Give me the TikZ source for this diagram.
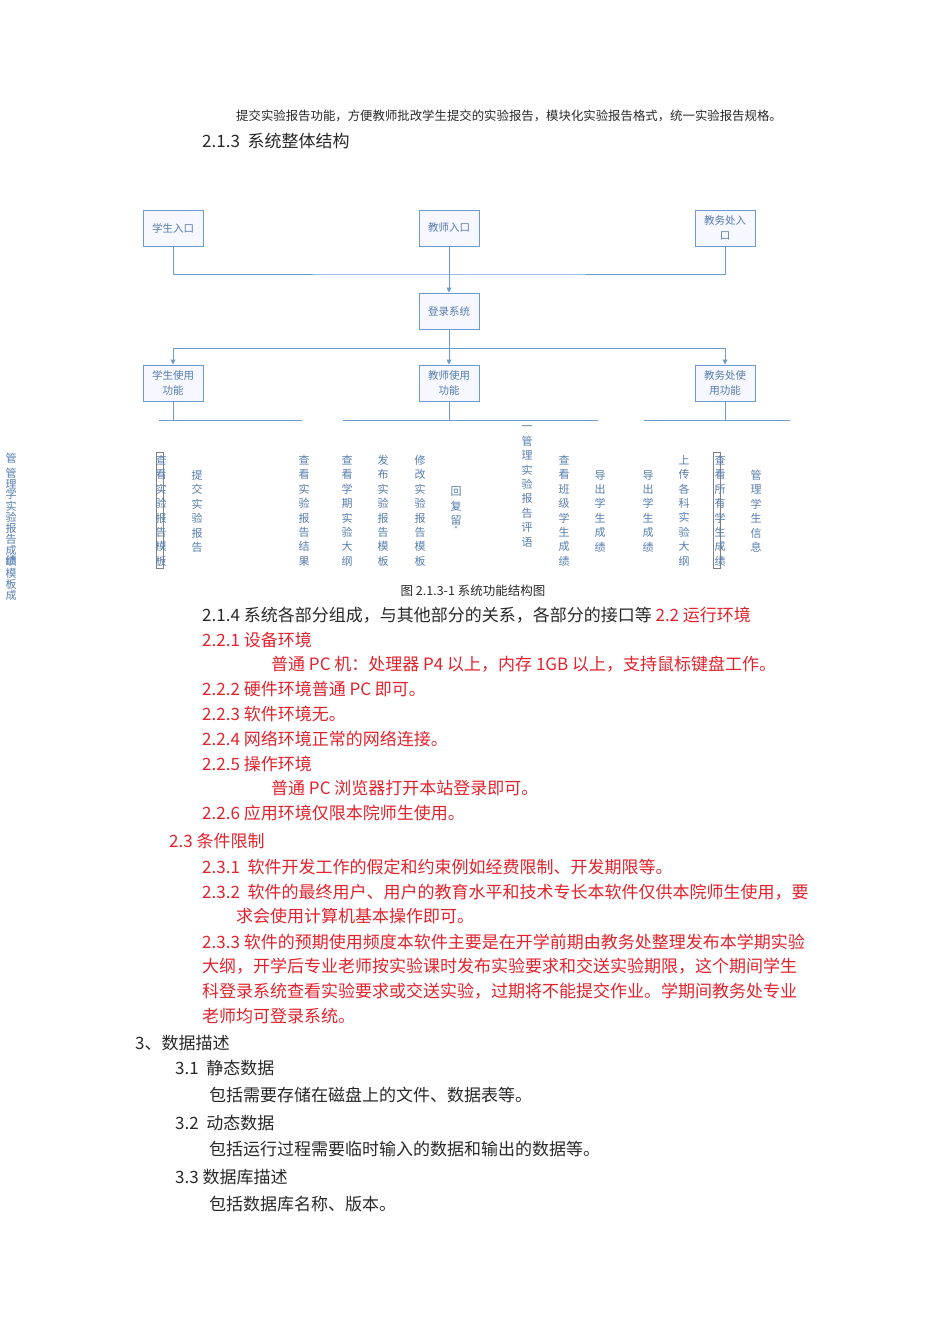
\documentclass[tikz,border=0pt]{standalone}
\usepackage{fontspec}
\setmainfont{Noto Sans CJK SC}
\newfontfamily\djv{DejaVu Sans}
\usetikzlibrary{arrows.meta}
\definecolor{dblue}{RGB}{85,125,175}
\definecolor{lblue}{RGB}{110,155,205}
\definecolor{dred}{RGB}{225,35,45}
\definecolor{dtext}{RGB}{40,40,40}
\tikzset{
  box/.style={draw=lblue,line width=1pt,fill=blue!3,minimum width=60pt,minimum height=36pt,text=dblue,font=\fontsize{10.5}{15}\selectfont,align=center,inner sep=1pt},
  conn/.style={lblue,line width=1pt},
  arr/.style={conn,-{Triangle[length=5pt,width=5pt]}},
  vt/.style={anchor=north,text=dblue,font=\fontsize{11}{14.4}\selectfont,align=center,inner sep=0pt},
  body/.style={anchor=west,inner sep=0pt,font=\fontsize{17}{20}\selectfont},
  rb/.style={body,text=dred},
}
\begin{document}
\begin{tikzpicture}[x=1pt,y=-1pt]
\useasboundingbox (0,0) rectangle (950,1344);
\node[anchor=west,inner sep=0pt,font=\fontsize{12.4}{14}\selectfont,text=dtext] (l0) at (236,116) {提交实验报告功能，方便教师批改学生提交的实验报告，模块化实验报告格式，统一实验报告规格。};
\node[body,text=dtext] (l1) at (202,141) {2.1.3\ \ 系统整体结构};
% diagram
\node[box] (se) at (173,228) {学生入口};
\node[box] (te) at (449,228) {教师入口};
\node[box] (ae) at (725,228) {教务处入\\口};
\node[box] (lg) at (449,311) {登录系统};
\node[box] (su) at (173,383) {学生使用\\功能};
\node[box] (tu) at (449,383) {教师使用\\功能};
\node[box] (au) at (725,383) {教务处使\\用功能};
\coordinate (b1) at (449,274);
\coordinate (b2) at (449,348);
\draw[conn] (se.south) |- (b1) -| (ae.south);
\draw[arr] (te.south) -- (lg.north);
\draw[conn] (lg.south) -- (b2);
\draw[arr] (b2) -| (su.north);
\draw[arr] (b2) -| (au.north);
\draw[arr] (b2) -- (tu.north);
\coordinate (s1) at (173,420); \coordinate (t1) at (449,420); \coordinate (a1) at (725,420);
\draw[conn] (su.south) -- (s1); \draw[conn] (tu.south) -- (t1); \draw[conn] (au.south) -- (a1);
\draw[conn] (159,420) -- (302,420);
\draw[conn] (343,420) -- (598,420);
\draw[conn] (644,420) -- (790,420);
% vertical texts
\node[vt] (v0) at (11,453) {管};
\node[vt,font=\fontsize{11}{7.4}\selectfont] (v0b) at (11,468) {管\\理\\学\\实\\验\\报\\告\\成\\绩\\模\\板\\成};
\node[vt] (v0d) at (11,555) {绩};
\draw[gray,line width=0.8pt] (156,452) rectangle (163,568);
\node[vt] (v1) at (161,455) {查\\看\\实\\验\\报\\告\\模\\板};
\node[vt] (v2) at (197,470) {提\\交\\实\\验\\报\\告};
\node[vt] (v3) at (304,455) {查\\看\\实\\验\\报\\告\\结\\果};
\node[vt] (v4) at (347,455) {查\\看\\学\\期\\实\\验\\大\\纲};
\node[vt] (v5) at (383,455) {发\\布\\实\\验\\报\\告\\模\\板};
\node[vt] (v6) at (420,455) {修\\改\\实\\验\\报\\告\\模\\板};
\node[vt] (v7) at (456,487) {回\\复\\留\\[-4pt]{\djv ˆ}};
\node[vt] (v8) at (527,426) {一\\管\\理\\实\\验\\报\\告\\评\\语};
\node[vt] (v9) at (564,455) {查\\看\\班\\级\\学\\生\\成\\绩};
\node[vt] (v10) at (600,470) {导\\出\\学\\生\\成\\绩};
\node[vt] (v11) at (648,470) {导\\出\\学\\生\\成\\绩};
\node[vt] (v12) at (684,455) {上\\传\\各\\科\\实\\验\\大\\纲};
\draw[gray,line width=0.8pt] (713,452) rectangle (720,568);
\node[vt] (v13) at (720,455) {查\\看\\所\\有\\学\\生\\成\\绩};
\node[vt] (v14) at (756,470) {管\\理\\学\\生\\信\\息};
\node[inner sep=0pt,font=\fontsize{12.5}{14}\selectfont,text=dtext] (cap) at (473,591) {图 2.1.3-1 系统功能结构图};
% body text
\node[body,text=dtext] (l2) at (202,615) {2.1.4 系统各部分组成，与其他部分的关系，各部分的接口等 \textcolor{dred}{2.2 运行环境}};
\node[rb] (l3) at (202,640) {2.2.1 设备环境};
\node[rb] (l4) at (271,664) {普通 PC 机：处理器 P4 以上，内存 1GB 以上，支持鼠标键盘工作。};
\node[rb] (l5) at (202,689) {2.2.2 硬件环境普通 PC 即可。};
\node[rb] (l6) at (202,714) {2.2.3 软件环境无。};
\node[rb] (l7) at (202,739) {2.2.4 网络环境正常的网络连接。};
\node[rb] (l8) at (202,764) {2.2.5 操作环境};
\node[rb] (l9) at (271,788) {普通 PC 浏览器打开本站登录即可。};
\node[rb] (l10) at (202,813) {2.2.6 应用环境仅限本院师生使用。};
\node[rb] (l11) at (169,841) {2.3 条件限制};
\node[rb] (l12) at (202,867) {2.3.1\ \ 软件开发工作的假定和约束例如经费限制、开发期限等。};
\node[rb] (l13) at (202,892) {2.3.2\ \ 软件的最终用户、用户的教育水平和技术专长本软件仅供本院师生使用，要};
\node[rb] (l14) at (236,916) {求会使用计算机基本操作即可。};
\node[rb] (l15) at (202,942) {2.3.3 软件的预期使用频度本软件主要是在开学前期由教务处整理发布本学期实验};
\node[rb] (l16) at (202,966) {大纲，开学后专业老师按实验课时发布实验要求和交送实验期限，这个期间学生};
\node[rb] (l17) at (202,991) {科登录系统查看实验要求或交送实验，过期将不能提交作业。学期间教务处专业};
\node[rb] (l18) at (202,1016) {老师均可登录系统。};
\node[body,text=dtext] (l19) at (135,1043) {3、数据描述};
\node[body,text=dtext] (l20) at (175,1068) {3.1\ \ 静态数据};
\node[body,text=dtext] (l21) at (209,1095) {包括需要存储在磁盘上的文件、数据表等。};
\node[body,text=dtext] (l22) at (175,1123) {3.2\ \ 动态数据};
\node[body,text=dtext] (l23) at (209,1149) {包括运行过程需要临时输入的数据和输出的数据等。};
\node[body,text=dtext] (l24) at (175,1177) {3.3 数据库描述};
\node[body,text=dtext] (l25) at (209,1204) {包括数据库名称、版本。};
\end{tikzpicture}
\end{document}
